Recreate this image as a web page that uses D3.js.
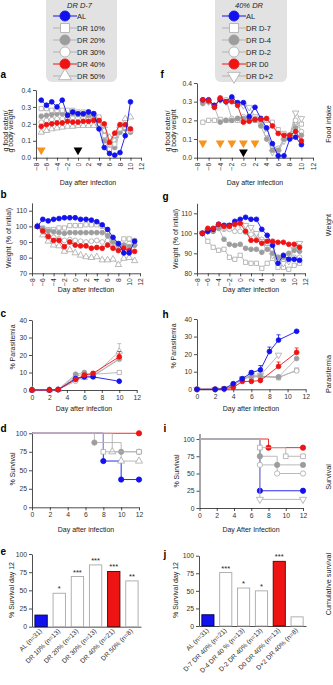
<!DOCTYPE html>
<html>
<head>
<meta charset="utf-8">
<script src="https://cdn.jsdelivr.net/npm/d3@7"></script>
<style>
body { margin: 0; background: #fff; }
svg { font-family: "Liberation Sans", Arial, sans-serif; }
.axis path, .axis line { stroke: #222; stroke-width: 0.8; }
.axis text { font-size: 6.8px; fill: #333; font-family: "Liberation Sans", Arial, sans-serif; }
</style>
</head>
<body>
<div id="chart"></div>
<script>

// ---- legends
var legendLeft  = ["AL", "DR 10%", "DR 20%", "DR 30%", "DR 40%", "DR 50%"];
var legendRight = ["AL", "DR D-7", "DR D-4", "DR D-2", "DR D0", "DR D+2"];

// ---- a : food intake (DR from day -7)
var daysFood = [-7,-6,-5,-4,-3,-2,-1,0,1,2,3,4,5,6,7,8,9,10];
var foodA_AL   = [0.34,0.31,0.33,0.30,0.34,0.25,0.27,0.26,0.26,0.27,0.26,0.17,0.06,0.025,0.015,0.03,0.13,0.33];
var foodA_DR10 = [0.29,0.29,0.28,0.28,0.28,0.28,0.28,0.27,0.27,0.27,0.26,0.24,0.13,0.05,0.08,0.17,0.18,0.16];
var foodA_DR20 = [0.245,0.25,0.255,0.26,0.26,0.26,0.26,0.255,0.255,0.25,0.25,0.235,0.10,0.05,0.06,0.15,0.17,0.15];
var foodA_DR30 = [0.21,0.22,0.225,0.23,0.23,0.235,0.235,0.235,0.235,0.23,0.23,0.22,0.16,0.07,0.10,0.19,0.19,0.16];
var foodA_DR40 = [0.185,0.195,0.20,0.205,0.205,0.215,0.21,0.21,0.215,0.215,0.22,0.22,0.20,0.09,0.145,0.195,0.195,0.17];
var foodA_DR50 = [0.15,0.16,0.17,0.175,0.18,0.185,0.185,0.19,0.19,0.19,0.19,0.20,0.19,0.12,0.13,0.19,0.23,0.24];
var dietStartA = [-7];
var infection  = [0];

// ---- f : food intake (40% DR from different days)
var foodF_AL  = [0.31,0.31,0.28,0.31,0.30,0.325,0.295,0.295,0.22,0.27,0.21,0.16,0.075,0.01,0.01,0.10,0.11,0.07];
var foodF_D7  = [0.19,0.20,0.20,0.205,0.20,0.20,0.20,0.20,0.20,0.20,0.20,0.20,0.19,0.15,0.13,0.12,0.19,0.18];
var foodF_D4  = [0.29,0.30,0.27,0.19,0.20,0.20,0.21,0.21,0.21,0.20,0.17,0.10,0.04,0.04,0.10,0.11,0.16,0.12];
var foodF_D2  = [0.30,0.30,0.28,0.31,0.31,0.21,0.21,0.22,0.21,0.21,0.20,0.13,0.06,0.05,0.10,0.12,0.20,0.14];
var foodF_D0  = [0.31,0.305,0.27,0.32,0.30,0.30,0.28,0.19,0.195,0.205,0.205,0.21,0.17,0.13,0.12,0.12,0.14,0.09];
var foodF_Dp2 = [0.30,0.30,0.28,0.31,0.30,0.31,0.29,0.28,0.27,0.22,0.20,0.15,0.03,0.03,0.09,0.12,0.24,0.21];
var dietStartF = [-7,-4,-2,0,2];

// ---- b : weight (% of initial)
var daysWeight = [-7,-6,-5,-4,-3,-2,-1,0,1,2,3,4,5,6,7,8,9,10,11];
var wB_AL   = [100,104.5,103.5,104.5,105,105.5,105.5,105.5,104.5,104.5,104,103,101,98,93,89,83,83,90.5];
var wB_DR10 = [100,99,98,98,99,99,100.5,100.5,100.5,101,101,101,100,96,91,89,92,92,91];
var wB_DR20 = [100,98.5,97,96.5,96,95.5,96,96,96,96,96,96,96,94,90,88,88,87,88];
var wB_DR30 = [100,96.5,94,93,92,91,91.5,91,90.5,90,90.5,91,90,91,89,87,88,89,88];
var wB_DR40 = [100,97,93.5,91,91,87,90,88,87.5,87.5,86,86.5,86,88,86,84.5,86,84.5,84];
var wB_DR50 = [100,94.5,90.5,88,87.5,84,85,83,81.5,80.5,80,80.5,78.5,78.5,79,75.5,79.5,80,78];

// ---- g : weight
var wG_AL  = [100,101,102,104.5,104,104,106,107,108,107,107,102,99,94,85,89,87,87,86.5];
var wG_D7  = [100,96,93,91.5,92,88,87,89,85.5,85,85,82.5,85,87.5,83,83,82,84,85];
var wG_D4  = [100,101,101,102.5,97,94.5,94,94.5,92.5,92,92,90.5,92,90,88,88,90,91.5,91];
var wG_D2  = [100,101,101,103,102,102,101,101,100.5,99.5,99,97,95,92,88,87,87,88,88];
var wG_D0  = [100,102.5,102.5,104.5,103.5,103.5,104.5,105,101,96.5,96.5,95,96,96,95.5,95.5,94.5,94.5,93];
var wG_Dp2 = [100,101,101.5,103,103,104,104,104.5,104,103,100,96,93,89,86,85,86,92,95];

// ---- c : parasitemia
var daysParC = [0,2,3,5,6,7,10];
var parC_AL   = [0,0,0.2,6.5,7.5,7.5,5];
var parC_DR10 = [0,0,0.3,8,9,9,10];
var parC_DR20 = [0,0,0.3,9,10,8,18];
var parC_DR30 = [0,0,0.3,5,8,8,17.5];
var parC_DR40 = [0,0,0.2,6,8.5,9.5,19];
var parC_DR50 = [0,0,0.2,7,7,8,22];
var errC_DR40 = [0,0,0,1,1,1,3];
var errC_DR50 = [0,0,0,2,2,1,4.5];

// ---- h : parasitemia
var daysParH_AL = [0,2,3,4,5,6,7,8,9,11];
var parH_AL     = [0,0,0.3,3.2,6,9.5,11,21.5,28,33];
var errH_AL     = [0,0,0,0.4,0.5,1,2.5,2.5,3,0.5];
var daysParH    = [0,2,3,4,5,6,7,9,11];
var parH_D7     = [0,0,0.3,2,6,7,7.5,6.5,11];
var parH_D4     = [0,0,0.3,2,6,7.5,7.5,7,17.5];
var parH_D2     = [0,0,0.3,2,6,7,7,7,10.5];
var parH_D0     = [0,0,0.3,1,4.5,4.5,5,13,21];
var errH_D0     = [0,0,0,0,0.5,0.8,0.8,2.5,2.5];
var daysParH_Dp2 = [0,2,3,4,5,6,7,9];
var parH_Dp2    = [0,0,0.3,2,6,8,8,19.5];

// ---- d : survival (Kaplan-Meier steps)
var survD_AL_t   = [0,8,10,12],  survD_AL   = [100,62.5,37.5,37.5];
var survD_DR10_t = [0,8,12],     survD_DR10 = [100,75,75];
var survD_DR20_t = [0,7,10,12],  survD_DR20 = [100,87.5,75,75];
var survD_DR40_t = [0,12],       survD_DR40 = [100,100];
var survD_DR50_t = [0,9,10,12],  survD_DR50 = [100,75,62.5,62.5];

// ---- i : survival
var survI_AL_t  = [0,7,12],    survI_AL  = [100,25,25];
var survI_D7_t  = [0,7,10,12], survI_D7  = [100,87.5,75,75];
var survI_D4_t  = [0,7,9,12],  survI_D4  = [100,75,62.5,62.5];
var survI_D2_t  = [0,7,9,12],  survI_D2  = [100,62.5,50,50];
var survI_D0_t  = [0,8,12],    survI_D0  = [100,87.5,87.5];
var survI_Dp2_t = [0,7,12],    survI_Dp2 = [100,12.5,12.5];

// ---- e / j : survival at day 12
var catE   = ["AL (n=31)", "DR 10% (n=13)", "DR 20% (n=13)", "DR 30% (n=13)", "DR 40% (n=21)", "DR 50% (n=8)"];
var survE  = [16, 46, 69, 85, 76, 63];
var starsE = ["", "*", "***", "***", "***", "**"];
var catJ   = ["AL (n=31)", "D-7 DR 40% (n=21)", "D-4 DR 40 % (n=13)", "D-2 DR 40% (n=13)", "D0 DR 40% (n=13)", "D+2 DR 40% (n=8)"];
var survJ  = [16, 76, 54, 50, 92, 13];
var starsJ = ["", "***", "*", "*", "***", ""];

var dayTicks = [-8,-6,-4,-2,0,2,4,6,8,10,12];
var dayTicks0 = [0,2,4,6,8,10,12];

// marker / line styles
var GREY_LINE = "#b2b2b2", GREY_OPEN = "#a8a8a8", GREY_FILL = "#9d9d9d";
var BLUE = "#1212ee", RED = "#ee1414";
var ST = {
	al:  { shape: d3.symbolCircle,   fill: BLUE, stroke: BLUE, line: BLUE },
	sq:  { shape: d3.symbolSquare,   fill: "#fff", stroke: GREY_OPEN, line: GREY_LINE },
	gf:  { shape: d3.symbolCircle,   fill: GREY_FILL, stroke: GREY_FILL, line: GREY_LINE },
	oc:  { shape: d3.symbolCircle,   fill: "#fff", stroke: GREY_OPEN, line: GREY_LINE },
	red: { shape: d3.symbolCircle,   fill: RED, stroke: RED, line: RED },
	tu:  { shape: d3.symbolTriangle, fill: "#fff", stroke: GREY_OPEN, line: GREY_LINE },
	td:  { shape: d3.symbolTriangle, fill: "#fff", stroke: GREY_OPEN, line: GREY_LINE, rot: 180 }
};
var stylesLeft  = [ST.al, ST.sq, ST.gf, ST.oc, ST.red, ST.tu];
var stylesRight = [ST.al, ST.sq, ST.gf, ST.oc, ST.red, ST.td];

var svg = d3.select("#chart").append("svg")
	.attr("width", 333)
	.attr("height", 685);

function txt(x, y, s, size, opt) {
	opt = opt || {};
	var t = svg.append("text")
		.attr("x", x).attr("y", y)
		.text(s)
		.style("font-size", size + "px")
		.style("fill", opt.fill || "#222")
		.style("text-anchor", opt.anchor || "start");
	if (opt.bold) t.style("font-weight", "bold");
	if (opt.italic) t.style("font-style", "italic");
	if (opt.rot) t.attr("transform", "rotate(" + opt.rot + "," + x + "," + y + ")");
	return t;
}

function marker(g, st, size) {
	return g.append("path")
		.attr("d", d3.symbol().type(st.shape).size(size))
		.attr("fill", st.fill)
		.attr("stroke", st.stroke)
		.attr("stroke-width", 0.8);
}

// legend box
function legend(x0, x1, mx, title, names, styles) {
	svg.append("rect")
		.attr("x", x0).attr("y", -6)
		.attr("width", x1 - x0).attr("height", 88)
		.attr("rx", 6)
		.style("fill", "#e2e2e2");
	txt((x0 + x1) / 2 - 2, 8, title, 7.5, { anchor: "middle", italic: true });
	names.forEach(function(n, i) {
		var yy = 16 + i * 12;
		svg.append("line")
			.attr("x1", mx - 12).attr("x2", mx + 12)
			.attr("y1", yy).attr("y2", yy)
			.style("stroke", styles[i].line)
			.style("stroke-width", 1);
		var m = marker(svg, styles[i], styles[i].shape == d3.symbolTriangle ? 70 : 80);
		m.attr("transform", "translate(" + mx + "," + yy + ")" + (styles[i].rot ? " rotate(180)" : ""));
		txt(mx + 12, yy + 2.6, n, 7.5);
	});
}

legend(46, 117, 65, "DR D-7", legendLeft, stylesLeft);
legend(215, 287, 234, "40% DR", legendRight, stylesRight);

// line / step chart
function linePanel(p) {
	var x = d3.scaleLinear().domain(p.xd).range([p.left, p.right]);
	var y = d3.scaleLinear().domain(p.yd).range([p.bottom, p.top]);
	var g = svg.append("g");

	g.append("g").attr("class", "axis")
		.attr("transform", "translate(" + p.left + ",0)")
		.call(d3.axisLeft(y).tickValues(p.yticks).tickSize(3).tickSizeOuter(0).tickPadding(2)
			.tickFormat(p.yfmt || d3.format("d")));
	var xa = g.append("g").attr("class", "axis")
		.attr("transform", "translate(0," + p.bottom + ")")
		.call(d3.axisBottom(x).tickValues(p.xticks).tickSize(3).tickSizeOuter(0).tickPadding(2)
			.tickFormat(d3.format("d")));
	if (p.rotate) {
		xa.selectAll("text")
			.attr("transform", "rotate(-90)")
			.attr("x", -5).attr("y", 0)
			.attr("dy", "0.32em")
			.style("text-anchor", "end");
	}

	var line = d3.line()
		.x(function(d) { return x(d[0]); })
		.y(function(d) { return y(d[1]); });
	if (p.step) line.curve(d3.curveStepAfter);

	p.series.forEach(function(s) {
		var pts = s.days.map(function(d, i) { return [d, s.vals[i], s.err ? s.err[i] : 0]; });
		var st = s.style;
		g.append("path")
			.datum(pts)
			.attr("d", line)
			.attr("fill", "none")
			.attr("stroke", st.line)
			.attr("stroke-width", 0.9);
		// error bars (upper)
		pts.filter(function(d) { return d[2] > 0; }).forEach(function(d) {
			var cx = x(d[0]), ty = y(d[1] + d[2]);
			g.append("line").attr("x1", cx).attr("x2", cx).attr("y1", y(d[1])).attr("y2", ty)
				.style("stroke", st.line).style("stroke-width", 0.8);
			g.append("line").attr("x1", cx - 2).attr("x2", cx + 2).attr("y1", ty).attr("y2", ty)
				.style("stroke", st.line).style("stroke-width", 0.8);
		});
		var mpts = p.step ? pts.slice(1) : pts;
		g.selectAll(null)
			.data(mpts)
			.enter().append("path")
			.attr("d", d3.symbol().type(st.shape).size(p.msize || 18))
			.attr("transform", function(d) {
				return "translate(" + x(d[0]) + "," + y(d[1]) + ")" + (st.rot ? " rotate(180)" : "");
			})
			.attr("fill", st.fill)
			.attr("stroke", st.stroke)
			.attr("stroke-width", 0.8);
	});
	return { g: g, x: x, y: y };
}

function arrows(pn, days, yv, color) {
	pn.g.selectAll(null)
		.data(days)
		.enter().append("path")
		.attr("d", d3.symbol().type(d3.symbolTriangle).size(34))
		.attr("transform", function(d) { return "translate(" + pn.x(d) + "," + pn.y(yv) + ") rotate(180)"; })
		.attr("fill", color);
}

// bar chart
function barPanel(p) {
	var x = d3.scaleBand().domain(p.cats).range([p.left, p.right]).paddingInner(0.32).paddingOuter(0.16);
	var y = d3.scaleLinear().domain([0, 100]).range([p.bottom, p.top]);
	var g = svg.append("g");
	g.append("g").attr("class", "axis")
		.attr("transform", "translate(" + p.left + ",0)")
		.call(d3.axisLeft(y).tickValues([0, 25, 50, 75, 100]).tickSize(3).tickSizeOuter(0).tickPadding(2));
	var xa = g.append("g").attr("class", "axis")
		.attr("transform", "translate(0," + p.bottom + ")")
		.call(d3.axisBottom(x).tickSize(0).tickSizeOuter(0));
	xa.selectAll("text")
		.attr("transform", "rotate(-45)")
		.attr("x", -2.5).attr("y", 2)
		.attr("dy", "0.35em")
		.style("text-anchor", "end")
		.style("font-size", "6.6px");

	g.selectAll(null)
		.data(p.vals)
		.enter().append("rect")
		.attr("x", function(d, i) { return x(p.cats[i]); })
		.attr("y", function(d) { return y(d); })
		.attr("width", x.bandwidth())
		.attr("height", function(d) { return p.bottom - y(d); })
		.attr("fill", function(d, i) { return i == 0 ? BLUE : (i == 4 ? RED : "#fff"); })
		.attr("stroke", function(d, i) { return i == 0 ? "#000050" : (i == 4 ? "#500000" : GREY_OPEN); })
		.attr("stroke-width", 0.9);

	g.selectAll(null)
		.data(p.stars)
		.enter().append("text")
		.attr("x", function(d, i) { return x(p.cats[i]) + x.bandwidth() / 2; })
		.attr("y", function(d, i) { return y(p.vals[i]) - 2; })
		.text(function(d) { return d; })
		.style("font-size", "7.5px")
		.style("text-anchor", "middle")
		.style("fill", "#222");
}

// ---------------- a
var pa = linePanel({
	left: 36, right: 141, bottom: 157.7, top: 90, xd: [-8, 12], yd: [0, 0.4],
	xticks: dayTicks, yticks: [0, 0.1, 0.2, 0.3, 0.4], yfmt: d3.format(".1f"), rotate: true,
	series: [
		{ days: daysFood, vals: foodA_DR50, style: ST.tu },
		{ days: daysFood, vals: foodA_DR30, style: ST.oc },
		{ days: daysFood, vals: foodA_DR20, style: ST.gf },
		{ days: daysFood, vals: foodA_DR10, style: ST.sq },
		{ days: daysFood, vals: foodA_DR40, style: ST.red },
		{ days: daysFood, vals: foodA_AL, style: ST.al }
	]
});
arrows(pa, dietStartA, 0.045, "#f7941d");
arrows(pa, infection, 0.045, "#000");

// ---------------- f
var pf = linePanel({
	left: 197, right: 313, bottom: 157.7, top: 83, xd: [-8, 12], yd: [0, 0.4],
	xticks: dayTicks, yticks: [0, 0.1, 0.2, 0.3, 0.4], yfmt: d3.format(".1f"), rotate: true,
	series: [
		{ days: daysFood, vals: foodF_D7, style: ST.sq },
		{ days: daysFood, vals: foodF_Dp2, style: ST.td },
		{ days: daysFood, vals: foodF_D2, style: ST.oc },
		{ days: daysFood, vals: foodF_D4, style: ST.gf },
		{ days: daysFood, vals: foodF_AL, style: ST.al },
		{ days: daysFood, vals: foodF_D0, style: ST.red }
	]
});
arrows(pf, dietStartF, 0.078, "#f7941d");
arrows(pf, infection, 0.03, "#000");

// ---------------- b
linePanel({
	left: 32, right: 140, bottom: 273.3, top: 202.9, xd: [-8, 12], yd: [70, 115],
	xticks: dayTicks, yticks: [70, 80, 90, 100, 110], rotate: true,
	series: [
		{ days: daysWeight, vals: wB_DR50, style: ST.tu },
		{ days: daysWeight, vals: wB_DR30, style: ST.oc },
		{ days: daysWeight, vals: wB_DR10, style: ST.sq },
		{ days: daysWeight, vals: wB_DR20, style: ST.gf },
		{ days: daysWeight, vals: wB_DR40, style: ST.red },
		{ days: daysWeight, vals: wB_AL, style: ST.al }
	]
});

// ---------------- g
linePanel({
	left: 197, right: 305, bottom: 273.3, top: 203.3, xd: [-8, 12], yd: [80, 115],
	xticks: dayTicks, yticks: [80, 90, 100, 110], rotate: true,
	series: [
		{ days: daysWeight, vals: wG_D7, style: ST.sq },
		{ days: daysWeight, vals: wG_D2, style: ST.oc },
		{ days: daysWeight, vals: wG_Dp2, style: ST.td },
		{ days: daysWeight, vals: wG_D4, style: ST.gf },
		{ days: daysWeight, vals: wG_AL, style: ST.al },
		{ days: daysWeight, vals: wG_D0, style: ST.red }
	]
});

// ---------------- c
linePanel({
	left: 32, right: 136.7, bottom: 390, top: 320, xd: [0, 12], yd: [0, 40],
	xticks: dayTicks0, yticks: [0, 10, 20, 30, 40],
	series: [
		{ days: daysParC, vals: parC_DR50, style: ST.tu, err: errC_DR50 },
		{ days: daysParC, vals: parC_DR30, style: ST.oc },
		{ days: daysParC, vals: parC_DR10, style: ST.sq },
		{ days: daysParC, vals: parC_DR20, style: ST.gf },
		{ days: daysParC, vals: parC_AL, style: ST.al },
		{ days: daysParC, vals: parC_DR40, style: ST.red, err: errC_DR40 }
	]
});

// ---------------- h
linePanel({
	left: 197, right: 305.7, bottom: 389.3, top: 319, xd: [0, 12], yd: [0, 40],
	xticks: dayTicks0, yticks: [0, 10, 20, 30, 40],
	series: [
		{ days: daysParH, vals: parH_D7, style: ST.sq },
		{ days: daysParH, vals: parH_D2, style: ST.oc },
		{ days: daysParH_Dp2, vals: parH_Dp2, style: ST.td },
		{ days: daysParH, vals: parH_D4, style: ST.gf },
		{ days: daysParH, vals: parH_D0, style: ST.red, err: errH_D0 },
		{ days: daysParH_AL, vals: parH_AL, style: ST.al, err: errH_AL }
	]
});

// ---------------- d
linePanel({
	left: 32, right: 139, bottom: 507.3, top: 431.8, xd: [0, 12], yd: [0, 102],
	xticks: dayTicks0, yticks: [0, 25, 50, 75, 100], step: true, msize: 22,
	series: [
		{ days: survD_DR40_t, vals: survD_DR40, style: ST.red },
		{ days: survD_AL_t, vals: survD_AL, style: ST.al },
		{ days: survD_DR50_t, vals: survD_DR50, style: ST.tu },
		{ days: survD_DR20_t, vals: survD_DR20, style: ST.gf },
		{ days: survD_DR10_t, vals: survD_DR10, style: ST.sq }
	]
});

// ---------------- i
linePanel({
	left: 199.5, right: 303, bottom: 508, top: 433.5, xd: [0, 12], yd: [0, 108],
	xticks: dayTicks0, yticks: [0, 25, 50, 75, 100], step: true, msize: 22,
	series: [
		{ days: survI_D0_t, vals: survI_D0, style: ST.red },
		{ days: survI_AL_t, vals: survI_AL, style: ST.al },
		{ days: survI_Dp2_t, vals: survI_Dp2, style: ST.td },
		{ days: survI_D2_t, vals: survI_D2, style: ST.oc },
		{ days: survI_D4_t, vals: survI_D4, style: ST.gf },
		{ days: survI_D7_t, vals: survI_D7, style: ST.sq }
	]
});

// ---------------- e / j
barPanel({ left: 32, right: 141, bottom: 626.7, top: 554, cats: catE, vals: survE, stars: starsE });
barPanel({ left: 199, right: 306, bottom: 626, top: 555.7, cats: catJ, vals: survJ, stars: starsJ });

// ---------------- axis titles
txt(88, 184.5, "Day after infection", 7, { anchor: "middle" });
txt(255, 184.5, "Day after infection", 7, { anchor: "middle" });
txt(86, 291.5, "Day after infection", 7, { anchor: "middle" });
txt(251, 291.5, "Day after infection", 7, { anchor: "middle" });
txt(84, 411, "Day after infection", 7, { anchor: "middle" });
txt(251, 411, "Day after infection", 7, { anchor: "middle" });
txt(86, 531.5, "Day after infection", 7, { anchor: "middle" });
txt(251, 531.5, "Day After Infection", 7, { anchor: "middle" });

txt(7.5, 131, "g food eaten/", 7, { anchor: "middle", rot: -90 });
txt(13.3, 131, "g body weight", 7, { anchor: "middle", rot: -90 });
txt(169.5, 131, "g food eaten/", 7, { anchor: "middle", rot: -90 });
txt(175.5, 131, "g body weight", 7, { anchor: "middle", rot: -90 });
txt(11, 238, "Weight (% of initial)", 7, { anchor: "middle", rot: -90 });
txt(178, 239, "Weight (% of initial)", 7, { anchor: "middle", rot: -90 });
txt(14.5, 347, "% Parasitemia", 7, { anchor: "middle", rot: -90 });
txt(176, 346, "% Parasitemia", 7, { anchor: "middle", rot: -90 });
txt(14.5, 469, "% Survival", 7, { anchor: "middle", rot: -90 });
txt(178.5, 471, "% Survival", 7, { anchor: "middle", rot: -90 });
txt(13.5, 590, "% Survival day 12", 7, { anchor: "middle", rot: -90 });
txt(177.5, 590, "% Survival day 12", 7, { anchor: "middle", rot: -90 });

// row titles on the right
txt(331, 124, "Food intake", 7.2, { anchor: "middle", rot: -90 });
txt(331, 225, "Weight", 7.2, { anchor: "middle", rot: -90 });
txt(331, 374, "Parasitemia", 7.2, { anchor: "middle", rot: -90 });
txt(331, 477, "Survival", 7.2, { anchor: "middle", rot: -90 });
txt(331, 584, "Cumulative survival", 7.2, { anchor: "middle", rot: -90 });

// panel letters
txt(0.5, 78, "a", 10, { bold: true, fill: "#000" });
txt(160.5, 78, "f", 10, { bold: true, fill: "#000" });
txt(0.5, 198, "b", 10, { bold: true, fill: "#000" });
txt(162.5, 200, "g", 10, { bold: true, fill: "#000" });
txt(0.5, 317, "c", 10, { bold: true, fill: "#000" });
txt(162.5, 318, "h", 10, { bold: true, fill: "#000" });
txt(0.5, 432, "d", 10, { bold: true, fill: "#000" });
txt(163.5, 432, "i", 10, { bold: true, fill: "#000" });
txt(0.5, 555, "e", 10, { bold: true, fill: "#000" });
txt(163.5, 558, "j", 10, { bold: true, fill: "#000" });

</script>
</body>
</html>
